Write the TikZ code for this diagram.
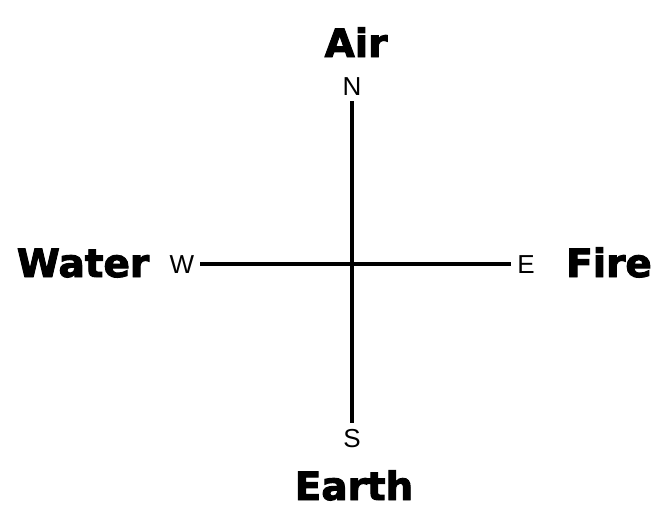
\documentclass[tikz,border=0pt]{standalone}
\usepackage{fontspec}
\setmainfont{Liberation Sans}
\newfontfamily\elemfont{DejaVu Sans}[BoldFeatures={FakeBold=2.5}]
\begin{document}
\begin{tikzpicture}[x=1pt, y=-1pt,
  element/.style={font=\elemfont\bfseries\fontsize{39}{46}\selectfont, anchor=base, inner sep=0pt},
  point/.style={font=\fontsize{26}{30}\selectfont, anchor=base, inner sep=6pt},
  axis/.style={black, line width=3.2pt}]
\useasboundingbox (0,0) rectangle (659,522);
\node[element] (air) at (356,57) {Air};
\node[element] (earth) at (354,500) {Earth};
\node[element] (water) at (83,277) {Water};
\node[element] (fire) at (609,277) {Fire};
\node[point] (north) at (352,95) {N};
\node[point] (south) at (352,447) {S};
\node[point] (west) at (182,273) {W};
\node[point] (east) at (526,273) {E};
\draw[axis] (north.south) -- (south.north);
\draw[axis] (west.east) -- (east.west);
\end{tikzpicture}
\end{document}
